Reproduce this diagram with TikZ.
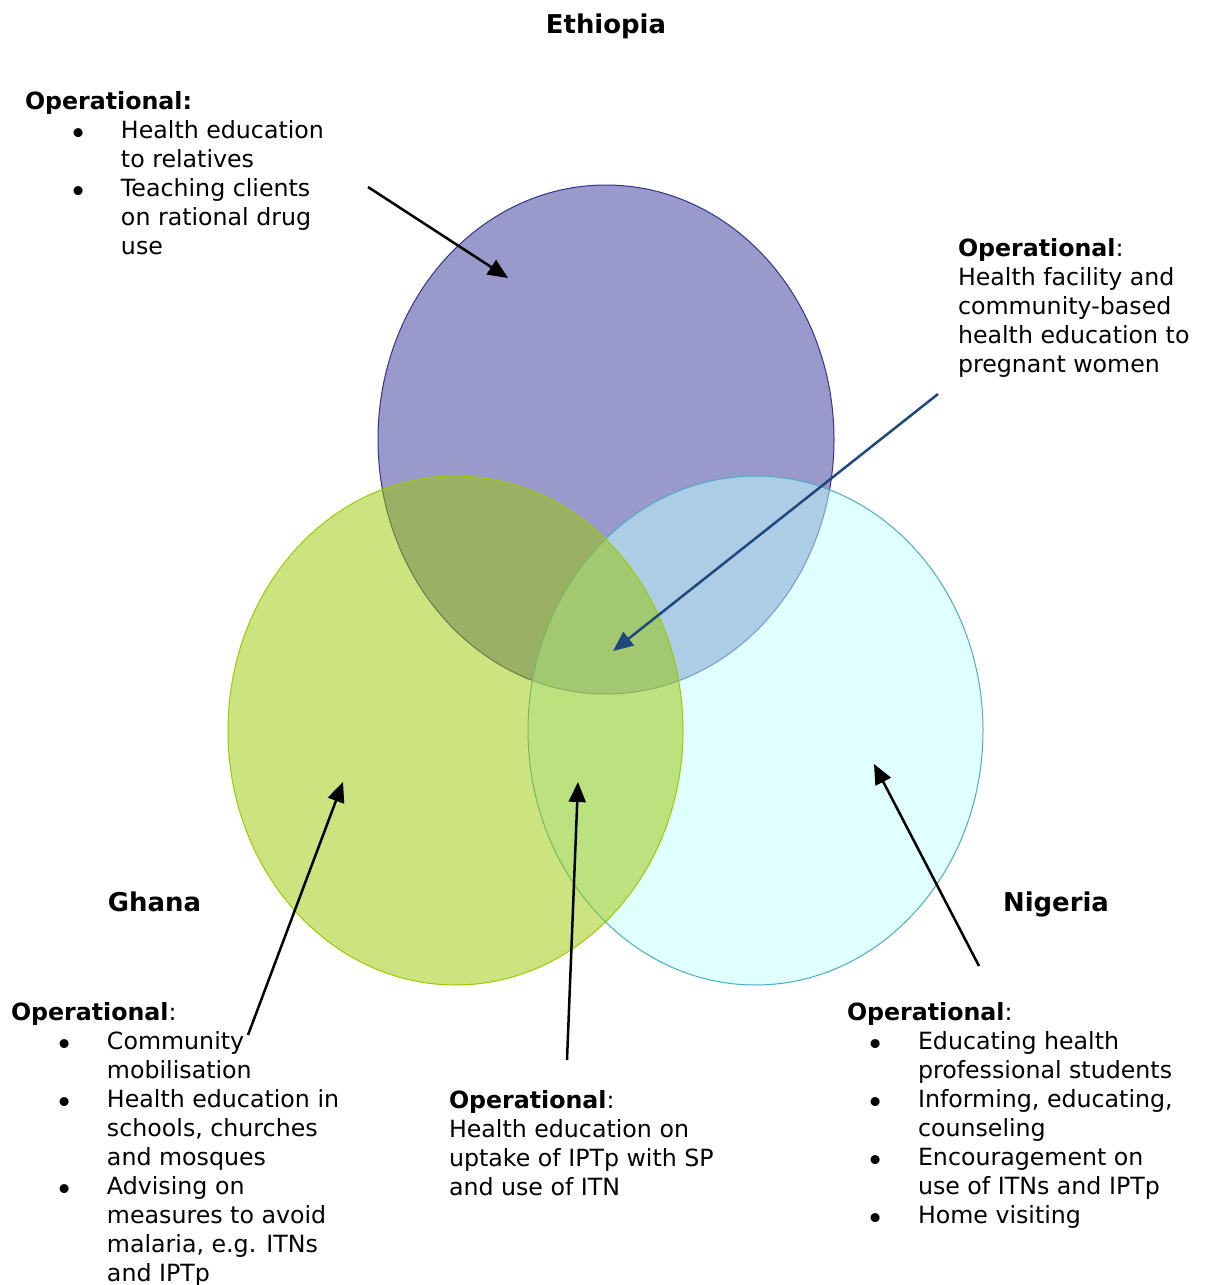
\documentclass[tikz,border=0pt]{standalone}
\usepackage{fontspec}
\usepackage{array}
\setmainfont{DejaVu Sans}
\usetikzlibrary{arrows.meta}

\definecolor{ethfill}{RGB}{153,153,204}
\definecolor{ethline}{RGB}{51,51,140}
\definecolor{nigfill}{RGB}{193,255,255}
\definecolor{nigline}{RGB}{75,172,198}
\definecolor{ghafill}{RGB}{153,199,0}
\definecolor{ghaline}{RGB}{153,204,0}
\definecolor{arrowblue}{RGB}{31,73,125}

% slightly enlarged list bullet, set low on the line
\newcommand{\listdot}{\raisebox{-6.5pt}{\scalebox{1.3}{\textbullet}}}

\tikzset{
  body/.style={anchor=base west, inner sep=0pt, outer sep=0pt,
    font=\fontsize{23.7}{29}\selectfont},
  country/.style={anchor=base, inner sep=0pt,
    font=\fontsize{25.9}{31}\selectfont\bfseries},
  pointer/.style={line width=2.5pt, -{Triangle[length=20pt,width=17pt]}},
  ring/.style={line width=1pt},
}

\begin{document}
\begin{tikzpicture}[x=1pt,y=-1pt]
\path[use as bounding box] (0,0) rectangle (1207,1285);

% the three overlapping sets
\draw[ring, draw=ethline, fill=ethfill]
  (606,439.5) ellipse [x radius=228, y radius=254.5];
\draw[ring, draw=nigline, fill=nigfill, fill opacity=0.5]
  (755.5,730.5) ellipse [x radius=227.5, y radius=254.5];
\draw[ring, draw=ghaline, fill=ghafill, fill opacity=0.5]
  (455.5,730.5) ellipse [x radius=227.5, y radius=254.5];

% country names
\node[country] (ethiopia) at (606,33) {Ethiopia};
\node[country] (ghana) at (154.5,911) {Ghana};
\node[country] (nigeria) at (1056,911) {Nigeria};

% Ethiopia activities
\node[body] (opEth) at (25,109) {\begin{tabular}[t]{@{}wl{44pt}@{}wl{52pt}@{}l@{}}
\multicolumn{3}{@{}l@{}}{\textbf{Operational:}}\\
& \listdot & Health education\\
& & to relatives\\
& \listdot & Teaching clients\\
& & on rational drug\\
& & use
\end{tabular}};

% shared activities
\node[body] (opAll) at (958,256) {\begin{tabular}[t]{@{}l@{}}
\textbf{Operational}:\\
Health facility and\\
community-based\\
health education to\\
pregnant women
\end{tabular}};

% Ghana activities
\node[body] (opGha) at (11,1020) {\begin{tabular}[t]{@{}wl{44pt}@{}wl{52pt}@{}l@{}}
\multicolumn{3}{@{}l@{}}{\textbf{Operational}:}\\
& \listdot & Community\\
& & mobilisation\\
& \listdot & Health education in\\
& & schools, churches\\
& & and mosques\\
& \listdot & Advising on\\
& & measures to avoid\\
& & malaria, e.g. ITNs\\
& & and IPTp
\end{tabular}};

% Ghana and Nigeria activities
\node[body] (opGhaNig) at (449,1108) {\begin{tabular}[t]{@{}l@{}}
\textbf{Operational}:\\
Health education on\\
uptake of IPTp with SP\\
and use of ITN
\end{tabular}};

% Nigeria activities
\node[body] (opNig) at (847,1020) {\begin{tabular}[t]{@{}wl{19pt}@{}wl{52pt}@{}l@{}}
\multicolumn{3}{@{}l@{}}{\textbf{Operational}:}\\
& \listdot & Educating health\\
& & professional students\\
& \listdot & Informing, educating,\\
& & counseling\\
& \listdot & Encouragement on\\
& & use of ITNs and IPTp\\
& \listdot & Home visiting
\end{tabular}};

% pointer ends
\coordinate (ethFrom) at (368,187);
\coordinate (ethTo) at (508,278);
\coordinate (allFrom) at (938,394);
\coordinate (allTo) at (613,651);
\coordinate (ghaFrom) at (248,1035);
\coordinate (ghaTo) at (343,782);
\coordinate (gnFrom) at (567,1060);
\coordinate (gnTo) at (578,782);
\coordinate (nigFrom) at (979,966);
\coordinate (nigTo) at (874,764);

\draw[pointer] (ethFrom) -- (ethTo);
\draw[pointer, arrowblue] (allFrom) -- (allTo);
\draw[pointer] (ghaFrom) -- (ghaTo);
\draw[pointer] (gnFrom) -- (gnTo);
\draw[pointer] (nigFrom) -- (nigTo);
\end{tikzpicture}
\end{document}
